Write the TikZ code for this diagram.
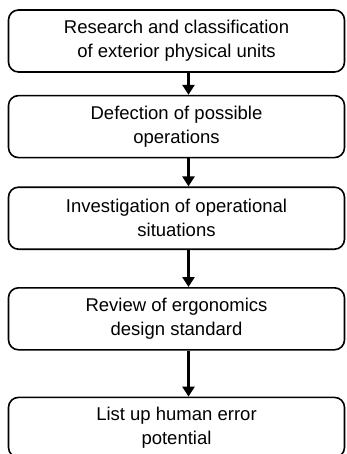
\documentclass[tikz,border=0pt]{standalone}
\usepackage{fontspec}
\setmainfont{Liberation Sans}
\usetikzlibrary{positioning,arrows.meta}

\begin{document}
\begin{tikzpicture}[%
    x=1pt, y=1pt,
    >={Triangle[length=10pt,width=12pt]}, % solid heads
    ]
\tikzset{
  stepbox/.style={draw, line width=1.6pt, rounded corners=10pt,
    minimum width=336pt, minimum height=62pt, align=center,
    font=\fontsize{18.5}{24}\selectfont, inner sep=2pt},
  flow/.style={->, line width=3.2pt},
}
\useasboundingbox (0,0) rectangle (347,-454);

\node [stepbox] (s1) at (176.5,-41) {Research and classification\\of exterior physical units};
\node [stepbox, below=22pt of s1] (s2) {Defection of possible\\operations};
\node [stepbox, below=28pt of s2] (s3) {Investigation of operational\\situations};
\node [stepbox, below=37pt of s3] (s4) {Review of ergonomics\\design standard};
\node [stepbox, below=46pt of s4, minimum height=60pt] (s5) {List up human error\\potential};

%connect
\draw [flow] ([xshift=12pt]s1.south) -- ([xshift=12pt]s2.north);
\draw [flow] ([xshift=12pt]s2.south) -- ([xshift=12pt]s3.north);
\draw [flow] ([xshift=12pt]s3.south) -- ([xshift=12pt]s4.north);
\draw [flow] ([xshift=12pt]s4.south) -- ([xshift=12pt]s5.north);

\end{tikzpicture}
\end{document}
